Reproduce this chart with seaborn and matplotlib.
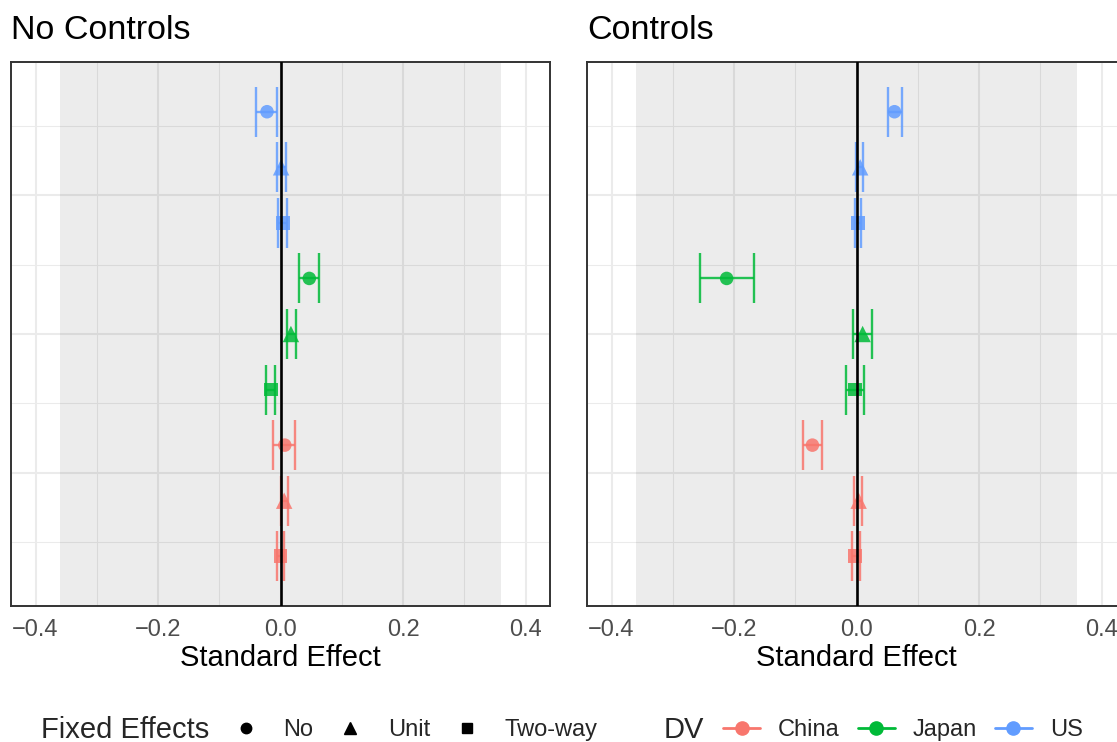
import numpy as np
import pandas as pd
import matplotlib
matplotlib.use("Agg")
import matplotlib.pyplot as plt
import seaborn as sns
from matplotlib.lines import Line2D
from matplotlib.ticker import FixedLocator

# ---------------- data ----------------
dv_levels = ["China", "Japan", "US"]
fe_levels = ["No", "Unit", "Two-way"]
dv_colors = ["#F8766D", "#00BA38", "#619CFF"]

# rows from bottom (1) to top (9)
row_dv = ["China", "China", "China", "Japan", "Japan", "Japan", "US", "US", "US"]
row_fe = ["Two-way", "Unit", "No", "Two-way", "Unit", "No", "Two-way", "Unit", "No"]
row_pos = [1, 2, 3, 4, 5, 6, 7, 8, 9]

# No Controls
nc_est = [0.000, 0.006, 0.007, -0.016, 0.017, 0.047, 0.0035, 0.001, -0.022]
nc_lo = [-0.006, 0.001, -0.012, -0.023, 0.0105, 0.030, -0.0035, -0.005, -0.040]
nc_hi = [0.006, 0.012, 0.024, -0.009, 0.0245, 0.063, 0.0105, 0.009, -0.005]

# Controls
c_est = [-0.002, 0.0035, -0.072, -0.002, 0.010, -0.212, 0.002, 0.006, 0.062]
c_lo = [-0.007, -0.0035, -0.0875, -0.017, -0.005, -0.256, -0.003, -0.001, 0.051]
c_hi = [0.0055, 0.0085, -0.056, 0.013, 0.025, -0.168, 0.008, 0.011, 0.074]

panel_titles = ["No Controls", "Controls"]
x_ticks = [-0.4, -0.2, 0.0, 0.2, 0.4]
band_limit = 0.36

# ---------------- style ----------------
sns.set_style("white")
plt.rcParams["font.family"] = ["Liberation Sans", "DejaVu Sans"]
plt.rcParams["axes.unicode_minus"] = True

W, H = 1117, 742
fig = plt.figure(figsize=(W / 100, H / 100), dpi=100)
fig.patch.set_facecolor("white")

panel_left_px = [11, 587]
panel_w_px = 539
panel_top_px, panel_bot_px = 62, 606

palette = dict(zip(dv_levels, dv_colors))
marker_map = {"No": "o", "Unit": "^", "Two-way": "s"}
size_map = {"No": 95, "Unit": 140, "Two-way": 98}

datasets = [(nc_est, nc_lo, nc_hi), (c_est, c_lo, c_hi)]

for i, (est, lo, hi) in enumerate(datasets):
    df = pd.DataFrame({"DV": row_dv, "FE": row_fe, "pos": row_pos,
                       "est": est, "lo": lo, "hi": hi})
    ax = fig.add_axes([panel_left_px[i] / W, (H - panel_bot_px) / H,
                       panel_w_px / W, (panel_bot_px - panel_top_px) / H])
    ax.set_facecolor("white")
    ax.set_xlim(-0.44, 0.44)
    ax.set_ylim(0.105, 9.895)

    # grid
    ax.xaxis.set_major_locator(FixedLocator(x_ticks))
    ax.xaxis.set_minor_locator(FixedLocator([-0.3, -0.1, 0.1, 0.3]))
    ax.yaxis.set_major_locator(FixedLocator([2.5, 5.0, 7.5]))
    ax.yaxis.set_minor_locator(FixedLocator([1.25, 3.75, 6.25, 8.75]))
    ax.set_axisbelow(True)
    ax.grid(True, which="major", color="#EBEBEB", linewidth=1.45)
    ax.grid(True, which="minor", color="#EBEBEB", linewidth=0.75)

    # gray band
    ax.axvspan(-band_limit, band_limit, color="black", alpha=0.075, lw=0, zorder=0.8)

    # error bars
    for dv, col in zip(dv_levels, dv_colors):
        sub = df[df["DV"] == dv]
        ax.errorbar(sub["est"], sub["pos"],
                    xerr=[sub["est"] - sub["lo"], sub["hi"] - sub["est"]],
                    fmt="none", ecolor=col, elinewidth=1.7, capsize=18,
                    capthick=1.7, alpha=0.85, zorder=2)

    # points
    sns.scatterplot(data=df, x="est", y="pos", hue="DV", hue_order=dv_levels,
                    palette=palette, style="FE", style_order=fe_levels,
                    markers=marker_map, size="FE", size_order=fe_levels,
                    sizes=size_map, linewidth=0, alpha=0.85, legend=False,
                    ax=ax, zorder=3)

    ax.axvline(0, color="black", lw=1.9, zorder=4)

    # axes styling
    for s in ax.spines.values():
        s.set_visible(True)
        s.set_color("#333333")
        s.set_linewidth(1.4)
    ax.set_yticklabels([])
    ax.tick_params(axis="y", which="both", length=0)
    ax.tick_params(axis="x", which="major", length=5, width=1.4, color="#333333",
                   labelcolor="#4D4D4D", labelsize=17, pad=4.5)
    ax.tick_params(axis="x", which="minor", length=0)
    ax.set_xticklabels([f"{t:.1f}".replace("-", "\u2212") for t in x_ticks])
    ax.set_xlabel("Standard Effect", fontsize=21, color="black", labelpad=2)
    ax.set_ylabel("")

    fig.text(panel_left_px[i] / W, (H - 39) / H, panel_titles[i], fontsize=24.5,
             ha="left", va="baseline", color="black")

# ---------------- legends ----------------
leg_y = (H - 730) / H
fig.text(41 / W, (H - 737.5) / H, "Fixed Effects", fontsize=21, ha="left", va="baseline")
fig.text(664 / W, (H - 737.5) / H, "DV", fontsize=21, ha="left", va="baseline")

shape_handles = [
    Line2D([], [], marker="o", color="black", linestyle="none", markersize=7.5),
    Line2D([], [], marker="^", color="black", linestyle="none", markersize=9),
    Line2D([], [], marker="s", color="black", linestyle="none", markersize=7.5),
]
leg1 = fig.legend(shape_handles, fe_levels, loc="center left",
                  bbox_to_anchor=(234 / W, leg_y), ncol=3, frameon=False,
                  fontsize=17, handlelength=1.0, handletextpad=1.1,
                  columnspacing=1.05, borderpad=0, borderaxespad=0)

dv_handles = [Line2D([], [], color=c, marker="o", markersize=9.5, lw=2)
              for c in dv_colors]
leg2 = fig.legend(dv_handles, dv_levels, loc="center left",
                  bbox_to_anchor=(723 / W, leg_y), ncol=3, frameon=False,
                  fontsize=17, handlelength=1.57, handletextpad=0.76,
                  columnspacing=0.76, borderpad=0, borderaxespad=0)

fig.savefig("out.png", dpi=100, facecolor="white")
